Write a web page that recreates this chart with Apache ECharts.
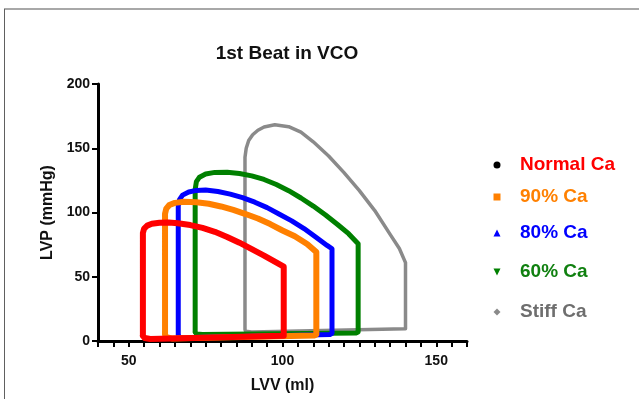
<!DOCTYPE html>
<html>
<head>
<meta charset="utf-8">
<script src="https://cdn.jsdelivr.net/npm/echarts@6/dist/echarts.min.js"></script>
<style>
  html, body { margin: 0; padding: 0; background: #fff; }
  #chart { width: 639px; height: 399px; }
</style>
</head>
<body>
<div id="chart"></div>
<script>
// PV loops: [LVV (ml), LVP (mmHg)]
const normalCa = [
  [54.6, 4], [54.6, 84], [55, 87.5], [56, 89.8], [57.5, 91.2], [60, 92], [63, 92.2], [66, 91.6],
  [70, 90.2], [74, 88], [78, 85], [82, 81], [86, 76.5], [90, 71.5], [94, 66.5], [97.5, 61.7],
  [100.4, 57.8], [100.4, 4], [99.8, 3], [57, 1.5], [55.2, 2.3], [54.6, 4]
];
const ca90 = [
  [61.8, 5], [61.8, 99], [62.2, 103], [63.2, 105.8], [65, 107.5], [68, 108.3], [72, 108],
  [76, 106.8], [80, 104.7], [84, 102], [88, 98.8], [92, 95.3], [96, 91], [100, 86], [104, 81.5],
  [108, 75.5], [111, 69.2], [111, 5], [110.3, 4.2], [64, 2], [62.2, 3], [61.8, 5]
];
const ca80 = [
  [66.1, 5], [66.1, 105], [66.5, 110], [67.5, 113.5], [69.5, 116], [72, 117.2], [75, 117.5],
  [79, 116.3], [83, 114.3], [87, 111.5], [91, 108], [95, 103.8], [99, 98.7], [103, 93.5],
  [107, 87.5], [111, 80.5], [114.5, 74.4], [116.1, 71.8], [116.1, 6], [115.4, 5], [68, 2.5],
  [66.4, 3], [66.1, 5]
];
const ca60 = [
  [71.6, 7], [71.6, 118], [72, 124], [73, 127.5], [75, 130], [78, 131.2], [82, 131.3], [86, 130.3],
  [90, 128.5], [94, 125.7], [98, 121.8], [102, 117], [106, 111.3], [110, 105], [114, 98],
  [118, 90.5], [121.5, 83.5], [124.6, 75.7], [124.6, 7], [123.9, 6.2], [74, 5], [72, 5.5], [71.6, 7]
];
const stiffCa = [
  [87.8, 9], [87.8, 143], [88.2, 150], [89, 156], [90.3, 160.5], [92, 164], [94, 166.5],
  [97.5, 168.3], [102, 166.8], [106, 162.5], [110, 155], [115, 144], [120, 131], [125, 117],
  [130, 101.5], [135, 83], [138, 72], [140, 61], [140, 9.5], [139.4, 8.5], [90, 7], [88, 7.5],
  [87.8, 9]
];

const seriesNames = ['Normal Ca', '90% Ca', '80% Ca', '60% Ca', 'Stiff Ca'];
const seriesData = [normalCa, ca90, ca80, ca60, stiffCa];
const seriesColors = ['#ff0000', '#ff8000', '#0000ff', '#008000', '#8a8a8a'];
const legendTextColors = ['#ff0000', '#ff8000', '#0000ff', '#108010', '#6e6e6e'];
const legendIcons = ['circle', 'rect', 'triangle', 'path://M0,0 L10,0 L5,10 Z', 'diamond'];
const legendIconColors = ['#000000', '#ff8000', '#0000ff', '#008000', '#8a8a8a'];
const legendRowsY = [165, 197, 233, 272, 312];
const lineWidths = [6, 6, 5, 5, 3.5];

const xLabelValues = [50, 100, 150];

const chart = echarts.init(document.getElementById('chart'));

const fontFamily = '"Liberation Sans", Arial, sans-serif';

// one legend per row so the uneven spacing can be kept
const legends = seriesNames.map((name, i) => ({
  left: 493.5,
  top: legendRowsY[i] - 10,
  padding: 0,
  itemWidth: 7,
  itemHeight: 7,
  selectedMode: false,
  data: [{ name: name, icon: legendIcons[i], itemStyle: { color: legendIconColors[i] } }],
  textStyle: {
    color: legendTextColors[i],
    fontSize: 19,
    fontWeight: 'bold',
    fontFamily: fontFamily,
    lineHeight: 20,
    padding: [0, 0, 0, 14.5]
  }
}));

// gray first so red ends up on top
const series = seriesNames.map((name, i) => ({
  name: name,
  type: 'line',
  data: seriesData[i],
  showSymbol: false,
  symbol: 'none',
  z: 10 - i,
  lineStyle: { color: seriesColors[i], width: lineWidths[i], join: 'round', cap: 'round' },
  itemStyle: { color: seriesColors[i] }
})).reverse();

chart.setOption({
  animation: false,
  backgroundColor: '#fff',
  title: {
    text: '1st Beat in VCO',
    left: 282,
    textAlign: 'center',
    top: 39,
    textStyle: { fontSize: 19, fontWeight: 'bold', color: '#111', fontFamily: fontFamily }
  },
  legend: legends,
  grid: { left: 98, right: 172, top: 84, bottom: 56 },
  xAxis: {
    type: 'value',
    min: 40,
    max: 160,
    interval: 5,
    name: 'LVV (ml)',
    nameLocation: 'middle',
    nameGap: 37,
    nameTextStyle: { fontSize: 16, fontWeight: 'bold', color: '#111', fontFamily: fontFamily },
    splitLine: { show: false },
    axisLine: { lineStyle: { color: '#000', width: 3 } },
    axisTick: { length: 6, lineStyle: { color: '#000', width: 2 } },
    axisLabel: {
      margin: 13,
      fontSize: 14,
      fontWeight: 'bold',
      color: '#111',
      fontFamily: fontFamily,
      formatter: v => (xLabelValues.indexOf(v) >= 0 ? String(v) : '')
    }
  },
  yAxis: {
    type: 'value',
    min: 0,
    max: 200,
    interval: 50,
    name: 'LVP (mmHg)',
    nameLocation: 'middle',
    nameGap: 42,
    nameTextStyle: { fontSize: 16, fontWeight: 'bold', color: '#111', fontFamily: fontFamily },
    splitLine: { show: false },
    axisLine: { show: true, lineStyle: { color: '#000', width: 3 } },
    axisTick: { show: true, length: 6, lineStyle: { color: '#000', width: 2 } },
    axisLabel: { margin: 8, fontSize: 14, fontWeight: 'bold', color: '#111', fontFamily: fontFamily }
  },
  graphic: [
    { type: 'line', shape: { x1: 4, y1: 9, x2: 639, y2: 9 }, style: { stroke: '#a8a8a8', lineWidth: 2 } },
    { type: 'line', shape: { x1: 4.5, y1: 9, x2: 4.5, y2: 399 }, style: { stroke: '#606060', lineWidth: 1 } }
  ],
  series: series
});

window.addEventListener('resize', () => chart.resize());
</script>
</body>
</html>
